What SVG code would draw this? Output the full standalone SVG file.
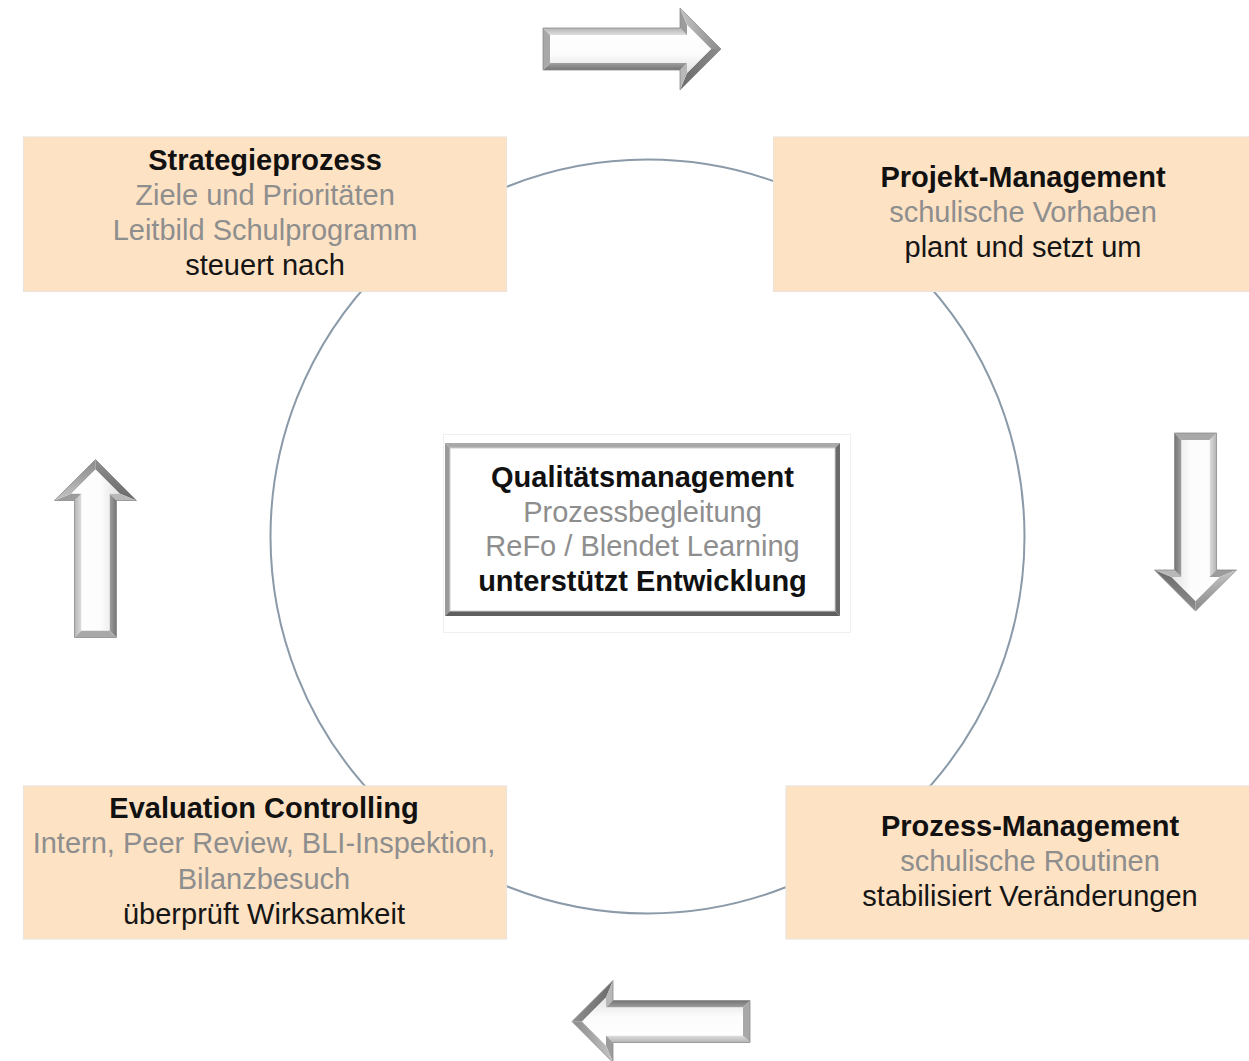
<svg xmlns="http://www.w3.org/2000/svg" xmlns:xlink="http://www.w3.org/1999/xlink" width="1249" height="1061" viewBox="0 0 1249 1061">
  <style>
    text { font-family: "Liberation Sans", Arial, sans-serif; font-size: 29px; text-anchor: middle; }
    .title { font-weight: bold; fill: #111111; }
    .sub { fill: #8e8e8e; }
    .act { fill: #151515; }
    .actb { font-weight: bold; fill: #111111; }
    .box { fill: #fde2c4; stroke: #ece4da; stroke-width: 1.2; }
    .ring { fill: none; stroke: #8a9aa8; stroke-width: 2; }
  </style>
  <defs>
    <linearGradient id="faceGrad" x1="0" y1="0" x2="0" y2="1">
      <stop offset="0" stop-color="#ffffff"/>
      <stop offset="0.6" stop-color="#fcfcfc"/>
      <stop offset="1" stop-color="#e2e2e2"/>
    </linearGradient>
    <linearGradient id="topFacet" x1="0" y1="0" x2="0" y2="1">
      <stop offset="0" stop-color="#b4b4b4"/>
      <stop offset="1" stop-color="#dedede"/>
    </linearGradient>
    <linearGradient id="bottomFacet" x1="0" y1="0" x2="0" y2="1">
      <stop offset="0" stop-color="#a0a0a0"/>
      <stop offset="1" stop-color="#747474"/>
    </linearGradient>
    <linearGradient id="upperSlant" x1="0" y1="0" x2="1" y2="0">
      <stop offset="0" stop-color="#c4c4c4"/>
      <stop offset="1" stop-color="#8a8a8a"/>
    </linearGradient>
    <linearGradient id="lowerSlant" x1="0" y1="0" x2="1" y2="0">
      <stop offset="0" stop-color="#6a6a6a"/>
      <stop offset="1" stop-color="#8e8e8e"/>
    </linearGradient>
    <!-- bevelled block arrow, tail at origin, pointing along +x -->
    <g id="arrow">
      <polygon points="0,-21 137,-21 144,-14 7,-14" fill="url(#topFacet)"/>
      <polygon points="137,-21 137,-41 144,-24 144,-14" fill="#9c9c9c"/>
      <polygon points="137,-41 178,0 168,0 144,-24" fill="url(#upperSlant)"/>
      <polygon points="178,0 137,41 144,24 168,0" fill="url(#lowerSlant)"/>
      <polygon points="137,41 137,21 144,14 144,24" fill="#b8b8b8"/>
      <polygon points="137,21 0,21 7,14 144,14" fill="url(#bottomFacet)"/>
      <polygon points="0,21 0,-21 7,-14 7,14" fill="#a8a8a8"/>
      <polygon points="7,-14 144,-14 144,-24 168,0 144,24 144,14 7,14" fill="url(#faceGrad)"/>
      <polygon points="0,-21 137,-21 137,-41 178,0 137,41 137,21 0,21" fill="none" stroke="#8c8c8c" stroke-width="0.8"/>
    </g>
  </defs>

  <rect width="1249" height="1061" fill="#ffffff"/>

  <!-- cycle ring and direction arrows -->
  <g id="connectors">
    <circle class="ring" cx="647.5" cy="536.5" r="377"/>
    <use xlink:href="#arrow" href="#arrow" transform="translate(543,49)"/>
    <use xlink:href="#arrow" href="#arrow" transform="translate(1195.5,433) rotate(90)"/>
    <use xlink:href="#arrow" href="#arrow" transform="translate(750,1021.5) rotate(180)"/>
    <use xlink:href="#arrow" href="#arrow" transform="translate(95.5,637.5) rotate(-90)"/>
  </g>

  <g id="strategieprozess">
    <rect class="box" x="23.5" y="137" width="483" height="154.5"/>
    <text x="265" y="170" class="title">Strategieprozess</text>
    <text x="265" y="205" class="sub">Ziele und Prioritäten</text>
    <text x="265" y="240" class="sub">Leitbild Schulprogramm</text>
    <text x="265" y="275" class="act">steuert nach</text>
  </g>

  <g id="projekt-management">
    <rect class="box" x="773.5" y="137" width="480" height="154.5"/>
    <text x="1023" y="187" class="title">Projekt-Management</text>
    <text x="1023" y="222" class="sub">schulische Vorhaben</text>
    <text x="1023" y="257" class="act">plant und setzt um</text>
  </g>

  <g id="evaluation-controlling">
    <rect class="box" x="23.5" y="786" width="483" height="153"/>
    <text x="264" y="818" class="title">Evaluation Controlling</text>
    <text x="264" y="853" class="sub">Intern, Peer Review, BLI-Inspektion,</text>
    <text x="264" y="889" class="sub">Bilanzbesuch</text>
    <text x="264" y="924" class="act">überprüft Wirksamkeit</text>
  </g>

  <g id="prozess-management">
    <rect class="box" x="786" y="786" width="470" height="153"/>
    <text x="1030" y="836" class="title">Prozess-Management</text>
    <text x="1030" y="871" class="sub">schulische Routinen</text>
    <text x="1030" y="906" class="act">stabilisiert Veränderungen</text>
  </g>

  <g id="qualitaetsmanagement">
    <rect x="443.5" y="434.5" width="407" height="198" fill="#ffffff" stroke="#efefef" stroke-width="1"/>
    <!-- bevelled frame -->
    <polygon points="445,443 840,443 835,448 450,448" fill="#a9a9a9"/>
    <polygon points="445,443 450,448 450,611 445,616" fill="#9a9a9a"/>
    <polygon points="840,443 840,616 835,611 835,448" fill="#6a6a6a"/>
    <polygon points="445,616 840,616 835,611 450,611" fill="#5f5f5f"/>
    <rect x="450" y="448" width="385" height="163" fill="#ffffff" stroke="#d0d0d0" stroke-width="1"/>
    <text x="642.5" y="487" class="title">Qualitätsmanagement</text>
    <text x="642.5" y="521.5" class="sub">Prozessbegleitung</text>
    <text x="642.5" y="556" class="sub">ReFo / Blendet Learning</text>
    <text x="642.5" y="590.5" class="actb">unterstützt Entwicklung</text>
  </g>
</svg>
